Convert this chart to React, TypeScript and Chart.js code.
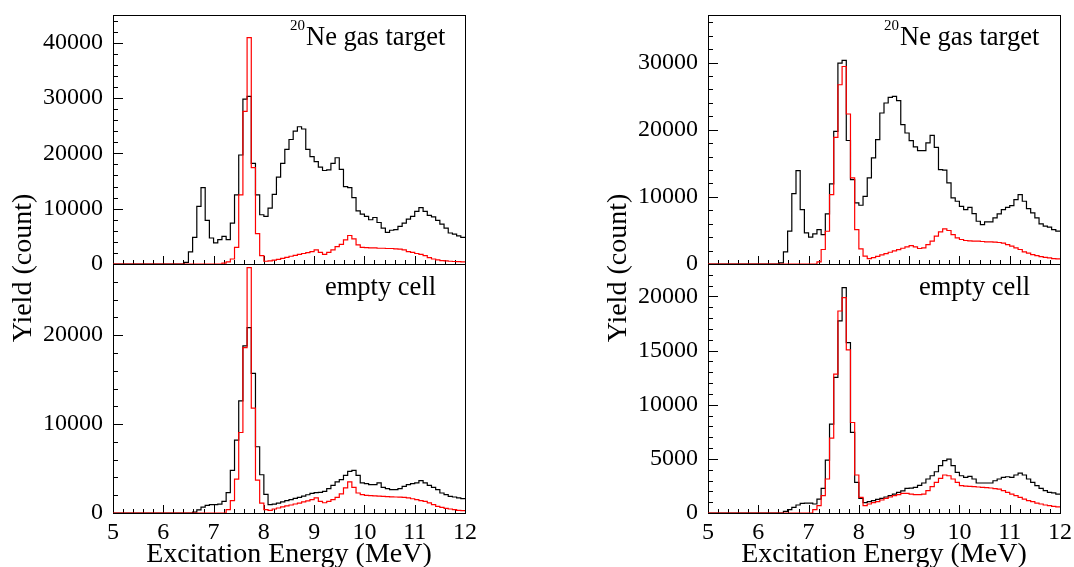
import React, { useEffect, useRef } from 'react';
import { Chart, registerables } from 'chart.js';

Chart.register(...registerables);

// Binning: 84 bins of 1/12 MeV from 5 to 12 MeV
const E_MIN = 5;
const E_MAX = 12;
const BINS_PER_MEV = 12;

// Tick labels
const X_TICKS = [5, 6, 7, 8, 9, 10, 11, 12];
const TL_Y_TICKS = [0, 10000, 20000, 30000, 40000];
const BL_Y_TICKS = [0, 10000, 20000];
const TR_Y_TICKS = [0, 10000, 20000, 30000];
const BR_Y_TICKS = [0, 5000, 10000, 15000, 20000];

// Top-left panel (20Ne gas target)
const TL_BLACK = [0,0,0,0,0,0,0,0,0,0, 0,0,0,0,0,0,0,300,2200,4800,
  10400,13800,7900,4700,3800,4400,5000,4400,7400,12500,
  19700,29800,30300,18200,12500,8900,8600,10100,12600,15700,
  18200,20700,22500,24000,24800,24400,20700,19400,18500,17500,
  16900,17000,18200,19200,17100,14000,13800,12000,9600,9000,
  8600,8000,8400,7500,6500,5700,6100,6200,6800,7400,
  8100,8600,9500,10200,9500,8800,8500,7900,7200,6500,
  5600,5400,5100,4800];
const TL_RED = [0,0,0,0,0,0,0,0,0,0, 0,0,0,0,0,0,0,0,0,0,
  0,0,0,0,0,0,150,400,900,3000,
  12500,27600,40900,17400,5500,1500,500,550,700,850,
  1000,1200,1400,1550,1750,1900,2050,2250,2550,2100,
  1750,2100,2550,3150,3550,4350,5150,4550,3450,3000,
  2950,2900,2900,2850,2850,2800,2800,2750,2700,2550,
  2250,2100,1900,1750,1500,1150,900,750,600,550,
  500,450,420,400];

// Bottom-left panel (empty cell)
const BL_BLACK = [0,0,0,0,0,0,0,0,0,0, 0,0,0,0,0,0,0,0,0,100,
  350,650,850,950,950,1000,1300,2300,4800,8200,
  12600,18800,20850,15700,7450,4300,2100,950,1000,1100,
  1250,1400,1500,1650,1750,1900,2050,2200,2300,2320,
  2440,2740,3110,3490,3750,4240,4690,4800,4240,3380,
  3300,3190,3190,3380,2890,2740,2630,2630,2740,3000,
  3190,3300,3380,3640,3380,3110,2890,2630,2250,2060,
  1870,1800,1690,1610];
const BL_RED = [0,0,0,0,0,0,0,0,0,0, 0,0,0,0,0,0,0,0,0,0,
  0,0,0,0,0,0,0,370,1400,3800,
  9050,18600,27600,11800,3700,1100,370,300,450,560,
  680,790,900,1010,1120,1240,1370,1500,1700,1300,
  1150,1300,1500,1760,2140,2820,3490,2890,2250,2060,
  1990,1950,1920,1900,1880,1850,1820,1800,1780,1750,
  1690,1600,1500,1400,1310,1130,940,750,640,520,
  450,370,300,260];

// Top-right panel (20Ne gas target)
const TR_BLACK = [0,0,0,0,0,0,0,0,0,0, 0,0,0,0,0,0,0,180,1820,4890,
  10490,13910,8110,4640,3990,4490,5130,4390,7470,11930,
  19760,29940,30330,18400,12570,9100,8750,10090,12830,15800,
  18530,22500,23990,24820,24970,24330,20760,19520,18380,17440,
  16890,16890,18040,19170,17380,14060,14000,12080,9850,9350,
  8600,8110,8450,7510,6370,5880,6280,6280,6870,7470,
  8110,8450,8700,9600,10340,9350,8260,7620,6870,5980,
  5630,5480,5130,4890];
const TR_RED = [0,0,0,0,0,0,0,0,0,0, 0,0,0,0,0,0,0,0,0,0,
  0,0,0,0,0,0,330,2160,4880,10340,
  18870,26710,29430,22350,12830,5130,2260,1160,800,950,
  1150,1350,1550,1750,1950,2150,2350,2550,2750,2560,
  2310,2410,2900,3400,4140,4790,5240,4990,4390,3890,
  3650,3500,3450,3400,3400,3350,3300,3300,3250,3200,
  3100,2900,2650,2410,2160,1810,1610,1410,1250,1100,
  1000,900,800,750];

// Bottom-right panel (empty cell)
const BR_BLACK = [0,0,0,0,0,0,0,0,0,0, 0,0,0,0,0,0,0,0,150,310,
  520,740,890,920,920,830,1290,2270,4890,8210,
  12520,17740,20820,15740,7440,2830,1350,950,1050,1140,
  1250,1350,1480,1600,1750,1900,2050,2270,2300,2370,
  2550,2770,3140,3440,3810,4370,4830,4980,4370,3750,
  3440,3290,3380,3140,2770,2770,2770,2770,2980,3140,
  3290,3350,3290,3510,3690,3510,3140,2830,2520,2270,
  2060,1900,1850,1750];
const BR_RED = [0,0,0,0,0,0,0,0,0,0, 0,0,0,0,0,0,0,0,0,0,
  0,0,0,0,0,310,680,1600,3140,6920,
  12820,18660,19890,15070,8360,3510,1440,680,830,950,
  1050,1200,1350,1480,1600,1700,1810,1810,1750,1690,
  1690,1750,2060,2430,2830,3200,3510,3440,3140,2830,
  2520,2490,2460,2430,2400,2370,2340,2310,2260,2210,
  2060,1900,1750,1600,1440,1290,1140,1050,920,830,
  740,680,620,560];

const X_TICKS_MINOR = 0.2;

const W = 1074;
const H = 567;
const SERIF = "'Liberation Serif', 'Times New Roman', serif";

type Frame = { left: number; top: number; right: number; bottom: number };
type PanelCfg = {
  black: number[];
  red: number[];
  yMax: number;
  yTicks: number[];
  yMinor: number;
  frame: Frame;
  yAxisWidth: number;
  showX: boolean;
};

function binPoints(values: number[]) {
  const pts = values.map((v, i) => ({ x: E_MIN + i / BINS_PER_MEV, y: v }));
  pts.push({ x: E_MAX, y: values[values.length - 1] });
  return pts;
}

function zeroPadding(s: any) {
  s.paddingTop = 0;
  s.paddingBottom = 0;
  s.paddingLeft = 0;
  s.paddingRight = 0;
}

const framePlugin = {
  id: 'rootFrame',
  beforeDatasetsDraw(chart: any, _args: any, opts: any) {
    const { ctx, chartArea: a, scales } = chart;
    const xs = scales.x;
    const ys = scales.y;
    ctx.save();
    ctx.strokeStyle = '#000';
    ctx.lineWidth = 1;
    ctx.strokeRect(Math.round(a.left) + 0.5, Math.round(a.top) + 0.5,
      Math.round(a.right - a.left), Math.round(a.bottom - a.top));
    ctx.beginPath();
    const majors: number[] = opts.yTicks;
    const nY = Math.floor(opts.yMax / opts.yMinor + 1e-6);
    for (let k = 0; k <= nY; k++) {
      const v = k * opts.yMinor;
      const y = Math.round(ys.getPixelForValue(v)) + 0.5;
      const isMajor = majors.indexOf(v) >= 0;
      const len = isMajor ? 10 : 5;
      ctx.moveTo(a.left, y);
      ctx.lineTo(a.left + len, y);
    }
    const nX = Math.round((E_MAX - E_MIN) / X_TICKS_MINOR);
    for (let k = 0; k <= nX; k++) {
      const e = E_MIN + k * X_TICKS_MINOR;
      const x = Math.round(xs.getPixelForValue(e)) + 0.5;
      const isMajor = X_TICKS.some((t) => Math.abs(t - e) < 1e-6);
      const len = isMajor ? 8 : 4;
      ctx.moveTo(x, a.bottom);
      ctx.lineTo(x, a.bottom - len);
    }
    ctx.stroke();
    ctx.restore();
  },
};

function Panel({ cfg }: { cfg: PanelCfg }) {
  const ref = useRef<HTMLCanvasElement>(null);
  useEffect(() => {
    const c = ref.current;
    if (!c) return;
    const f = cfg.frame;
    const xH = cfg.showX ? H - f.bottom : 0;
    const tickFont = { family: SERIF, size: 24 };
    const chart = new Chart(c, {
      type: 'line',
      data: {
        datasets: [
          {
            data: binPoints(cfg.red),
            borderColor: '#ff0000',
            borderWidth: 1.2,
            stepped: true,
            pointRadius: 0,
            fill: false,
          } as any,
          {
            data: binPoints(cfg.black),
            borderColor: '#000000',
            borderWidth: 1.2,
            stepped: true,
            pointRadius: 0,
            fill: false,
          } as any,
        ],
      },
      options: {
        responsive: false,
        animation: false,
        events: [],
        layout: {
          autoPadding: false,
          padding: {
            left: f.left - cfg.yAxisWidth,
            top: f.top,
            right: W - f.right,
            bottom: cfg.showX ? 0 : H - f.bottom,
          },
        },
        scales: {
          x: {
            type: 'linear',
            min: E_MIN,
            max: E_MAX,
            display: cfg.showX,
            afterFit: (s: any) => { s.height = xH; zeroPadding(s); },
            afterBuildTicks: (s: any) => { s.ticks = X_TICKS.map((v) => ({ value: v })); },
            grid: { display: false, drawTicks: false },
            border: { display: false },
            ticks: {
              autoSkip: false,
              maxRotation: 0,
              minRotation: 0,
              padding: 5,
              color: '#000',
              font: tickFont,
              callback: (v: any) => String(v),
            },
          },
          y: {
            type: 'linear',
            min: 0,
            max: cfg.yMax,
            afterFit: (s: any) => { s.width = cfg.yAxisWidth; zeroPadding(s); },
            afterBuildTicks: (s: any) => { s.ticks = cfg.yTicks.map((v) => ({ value: v })); },
            grid: { display: false, drawTicks: false },
            border: { display: false },
            ticks: {
              autoSkip: false,
              padding: 10,
              color: '#000',
              font: tickFont,
              callback: (v: any) => String(v),
            },
          },
        },
        plugins: {
          legend: { display: false },
          tooltip: { enabled: false },
          rootFrame: { yMax: cfg.yMax, yTicks: cfg.yTicks, yMinor: cfg.yMinor },
        } as any,
      },
      plugins: [framePlugin],
    } as any);
    return () => chart.destroy();
  }, [cfg]);
  return (
    <canvas
      ref={ref}
      width={W}
      height={H}
      style={{ position: 'absolute', left: 0, top: 0, width: W, height: H }}
    />
  );
}

const PANELS: PanelCfg[] = [
  { black: TL_BLACK, red: TL_RED, yMax: 45000, yTicks: TL_Y_TICKS, yMinor: 2000,
    frame: { left: 113, top: 15, right: 465, bottom: 264 }, yAxisWidth: 113, showX: false },
  { black: BL_BLACK, red: BL_RED, yMax: 28000, yTicks: BL_Y_TICKS, yMinor: 2000,
    frame: { left: 113, top: 264, right: 465, bottom: 513 }, yAxisWidth: 113, showX: true },
  { black: TR_BLACK, red: TR_RED, yMax: 37100, yTicks: TR_Y_TICKS, yMinor: 2000,
    frame: { left: 708, top: 15, right: 1060, bottom: 264 }, yAxisWidth: 110, showX: false },
  { black: BR_BLACK, red: BR_RED, yMax: 23000, yTicks: BR_Y_TICKS, yMinor: 1000,
    frame: { left: 708, top: 264, right: 1060, bottom: 513 }, yAxisWidth: 110, showX: true },
];

function Text({ x, top, size, children }: any) {
  return (
    <div
      style={{
        position: 'absolute',
        left: x,
        top,
        fontFamily: SERIF,
        fontSize: size,
        lineHeight: `${size}px`,
        whiteSpace: 'nowrap',
        color: '#000',
      }}
    >
      {children}
    </div>
  );
}

function YTitle({ cx, cy }: { cx: number; cy: number }) {
  return (
    <div
      style={{
        position: 'absolute',
        left: cx - 120,
        top: cy - 14,
        width: 240,
        height: 28,
        textAlign: 'center',
        fontFamily: SERIF,
        fontSize: 28,
        lineHeight: '28px',
        whiteSpace: 'nowrap',
        color: '#000',
        transform: 'rotate(-90deg)',
        transformOrigin: '50% 50%',
      }}
    >
      Yield (count)
    </div>
  );
}

function XTitle({ cx }: { cx: number }) {
  return (
    <div
      style={{
        position: 'absolute',
        left: cx - 200,
        top: 539,
        width: 400,
        textAlign: 'center',
        fontFamily: SERIF,
        fontSize: 28,
        lineHeight: '28px',
        whiteSpace: 'nowrap',
        color: '#000',
      }}
    >
      Excitation Energy (MeV)
    </div>
  );
}

export default function App() {
  return (
    <div
      style={{
        position: 'absolute',
        left: 0,
        top: 0,
        width: W,
        height: H,
        overflow: 'hidden',
        background: '#ffffff',
      }}
    >
      {PANELS.map((p, i) => (
        <Panel key={i} cfg={p} />
      ))}
      <YTitle cx={22} cy={268} />
      <YTitle cx={617} cy={268} />
      <XTitle cx={289} />
      <XTitle cx={884} />
      <Text x={290} top={18} size={15}>20</Text>
      <Text x={306} top={23} size={26.5}>Ne gas target</Text>
      <Text x={884} top={18} size={15}>20</Text>
      <Text x={900} top={23} size={26.5}>Ne gas target</Text>
      <Text x={325} top={273} size={26.5}>empty cell</Text>
      <Text x={919} top={273} size={26.5}>empty cell</Text>
    </div>
  );
}
